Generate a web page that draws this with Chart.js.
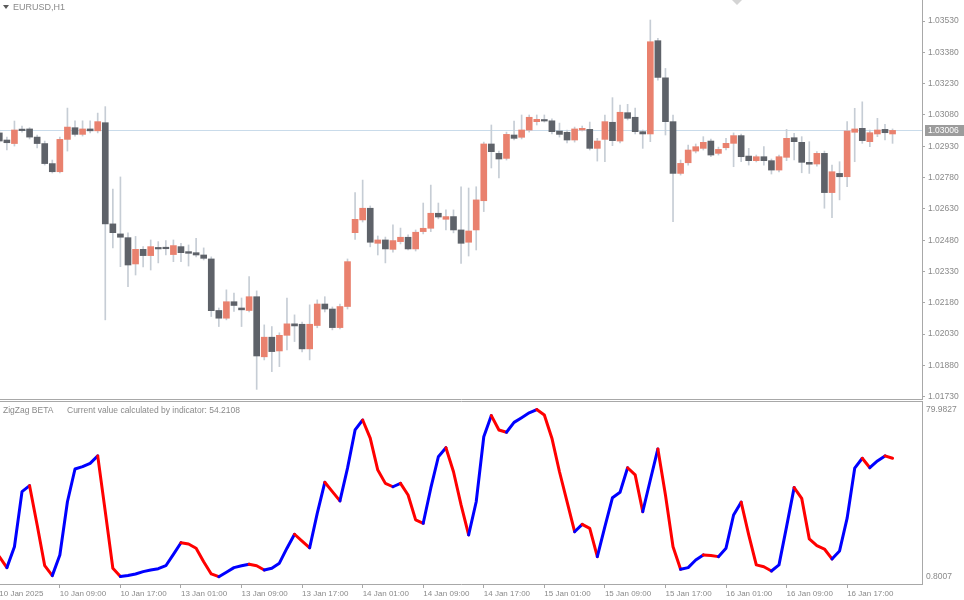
<!DOCTYPE html>
<html>
<head>
<meta charset="utf-8">
<script src="https://cdn.jsdelivr.net/npm/chart.js@4.4.1/dist/chart.umd.min.js"></script>
<style>
  html, body { margin: 0; padding: 0; background: #fff; }
  #wrap { position: relative; width: 964px; height: 600px; overflow: hidden; font-family: "Liberation Sans", Arial, sans-serif; }
  #priceCanvas { position: absolute; left: 0; top: 0; }
  #oscCanvas { position: absolute; left: 0; top: 400px; }
  .lbl { position: absolute; color: #8a8a8a; font-size: 8.5px; line-height: 10px; white-space: nowrap; }
  .tri { position: absolute; width: 0; height: 0; border-left: 3px solid transparent; border-right: 3px solid transparent; }
</style>
</head>
<body>
<div id="wrap">
  <canvas id="priceCanvas" width="964" height="400"></canvas>
  <canvas id="oscCanvas" width="964" height="200"></canvas>
  <div class="tri" style="left:3px;top:5px;border-top:4px solid #5a5a5a;"></div>
  <div class="lbl" style="left:13px;top:2px;font-size:9px;">EURUSD,H1</div>
  <div class="tri" style="left:732px;top:0;border-left-width:5px;border-right-width:5px;border-top:5px solid #d4d4d4;"></div>
  <div class="lbl" style="left:3px;top:405px;">ZigZag BETA</div>
  <div class="lbl" style="left:67px;top:405px;">Current value calculated by indicator: 54.2108</div>
</div>
<script>
// H1 candles, EURUSD
const opens = [
  1.02994, 1.02960, 1.02943, 1.03008, 1.03013, 1.02974, 1.02943, 1.02847, 1.02808, 1.02963,
  1.03019, 1.02987, 1.03013, 1.03004, 1.03043, 1.02558, 1.02510, 1.02492, 1.02366, 1.02436,
  1.02406, 1.02444, 1.02443, 1.02411, 1.02449, 1.02425, 1.02420, 1.02409, 1.02390, 1.02143,
  1.02106, 1.02185, 1.02155, 1.02143, 1.02209, 1.01921, 1.02015, 1.01949, 1.02024, 1.02079,
  1.02077, 1.01959, 1.02071, 1.02174, 1.02150, 1.02061, 1.02162, 1.02516, 1.02577, 1.02633,
  1.02465, 1.02481, 1.02436, 1.02473, 1.02494, 1.02438, 1.02521, 1.02537, 1.02609, 1.02580,
  1.02593, 1.02529, 1.02470, 1.02529, 1.02669, 1.02941, 1.02896, 1.02872, 1.02984, 1.02973,
  1.03008, 1.03048, 1.03056, 1.03052, 1.03003, 1.02997, 1.02960, 1.03008, 1.03011, 1.02920,
  1.02963, 1.03045, 1.02955, 1.03091, 1.03069, 1.03000, 1.02989, 1.03436, 1.03258, 1.03048,
  1.02800, 1.02851, 1.02907, 1.02920, 1.02955, 1.02896, 1.02923, 1.02944, 1.02981, 1.02883,
  1.02861, 1.02880, 1.02861, 1.02816, 1.02877, 1.02971, 1.02949, 1.02853, 1.02845, 1.02896,
  1.02708, 1.02800, 1.02784, 1.02997, 1.03016, 1.02952, 1.02989, 1.03011, 1.02989
];
const highs = [
  1.03008, 1.02974, 1.03051, 1.03027, 1.03019, 1.02984, 1.02955, 1.02864, 1.02974, 1.03113,
  1.03052, 1.03052, 1.03052, 1.03089, 1.03120, 1.02725, 1.02783, 1.02515, 1.02498, 1.02449,
  1.02481, 1.02473, 1.02478, 1.02481, 1.02465, 1.02457, 1.02489, 1.02443, 1.02400, 1.02155,
  1.02242, 1.02226, 1.02203, 1.02306, 1.02237, 1.02074, 1.02066, 1.02036, 1.02203, 1.02122,
  1.02088, 1.02170, 1.02194, 1.02209, 1.02160, 1.02174, 1.02390, 1.02708, 1.02768, 1.02644,
  1.02500, 1.02495, 1.02553, 1.02538, 1.02505, 1.02529, 1.02658, 1.02744, 1.02658, 1.02625,
  1.02625, 1.02736, 1.02730, 1.02736, 1.02950, 1.03032, 1.02907, 1.02998, 1.03051, 1.03080,
  1.03080, 1.03080, 1.03080, 1.03061, 1.03041, 1.03008, 1.03022, 1.03027, 1.03046, 1.02968,
  1.03080, 1.03163, 1.03128, 1.03131, 1.03113, 1.03008, 1.03535, 1.03447, 1.03303, 1.03080,
  1.02864, 1.02936, 1.02941, 1.02976, 1.02965, 1.02926, 1.02968, 1.02994, 1.02989, 1.02920,
  1.02888, 1.02928, 1.02869, 1.02888, 1.03011, 1.02992, 1.02976, 1.02952, 1.02904, 1.02907,
  1.02840, 1.02856, 1.03048, 1.03112, 1.03143, 1.03008, 1.03064, 1.03035, 1.03013
];
const lows = [
  1.02946, 1.02912, 1.02931, 1.02998, 1.02965, 1.02922, 1.02840, 1.02802, 1.02802, 1.02907,
  1.02979, 1.02979, 1.02994, 1.02994, 1.02098, 1.02443, 1.02353, 1.02257, 1.02313, 1.02352,
  1.02337, 1.02371, 1.02409, 1.02377, 1.02377, 1.02356, 1.02400, 1.02385, 1.02114, 1.02066,
  1.02098, 1.02138, 1.02066, 1.02136, 1.01765, 1.01906, 1.01850, 1.01874, 1.01954, 1.01994,
  1.01945, 1.01906, 1.02060, 1.02136, 1.02050, 1.02055, 1.02150, 1.02484, 1.02567, 1.02448,
  1.02409, 1.02371, 1.02423, 1.02462, 1.02433, 1.02428, 1.02510, 1.02521, 1.02582, 1.02529,
  1.02515, 1.02369, 1.02404, 1.02433, 1.02617, 1.02826, 1.02778, 1.02864, 1.02960, 1.02965,
  1.02998, 1.03032, 1.03046, 1.02989, 1.02974, 1.02946, 1.02950, 1.03003, 1.02912, 1.02859,
  1.02856, 1.02933, 1.02946, 1.03056, 1.02989, 1.02920, 1.02952, 1.03247, 1.02984, 1.02569,
  1.02792, 1.02840, 1.02898, 1.02912, 1.02880, 1.02888, 1.02912, 1.02832, 1.02856, 1.02840,
  1.02855, 1.02840, 1.02797, 1.02807, 1.02861, 1.02864, 1.02803, 1.02800, 1.02835, 1.02633,
  1.02588, 1.02673, 1.02736, 1.02856, 1.02944, 1.02928, 1.02976, 1.02960, 1.02944
];
const closes = [
  1.02955, 1.02947, 1.03008, 1.03005, 1.02974, 1.02943, 1.02847, 1.02808, 1.02963, 1.03022,
  1.02987, 1.03013, 1.03004, 1.03048, 1.02558, 1.02516, 1.02494, 1.02361, 1.02436, 1.02406,
  1.02449, 1.02438, 1.02439, 1.02454, 1.02420, 1.02417, 1.02409, 1.02393, 1.02142, 1.02106,
  1.02185, 1.02167, 1.02146, 1.02209, 1.01925, 1.02015, 1.01946, 1.02024, 1.02079, 1.02069,
  1.01959, 1.02077, 1.02174, 1.02150, 1.02061, 1.02162, 1.02377, 1.02580, 1.02633, 1.02470,
  1.02481, 1.02438, 1.02478, 1.02494, 1.02438, 1.02518, 1.02537, 1.02609, 1.02591, 1.02593,
  1.02529, 1.02465, 1.02524, 1.02673, 1.02941, 1.02904, 1.02869, 1.02987, 1.02968, 1.03008,
  1.03069, 1.03059, 1.03051, 1.03000, 1.02987, 1.02960, 1.03013, 1.03016, 1.02920, 1.02955,
  1.03048, 1.02957, 1.03093, 1.03064, 1.03000, 1.02989, 1.03431, 1.03260, 1.03048, 1.02800,
  1.02848, 1.02912, 1.02928, 1.02949, 1.02888, 1.02915, 1.02944, 1.02981, 1.02880, 1.02861,
  1.02880, 1.02861, 1.02816, 1.02880, 1.02968, 1.02952, 1.02853, 1.02844, 1.02896, 1.02708,
  1.02808, 1.02784, 1.03003, 1.03013, 1.02957, 1.02995, 1.03008, 1.02995, 1.03006
];

// ZigZag BETA indicator values, one per candle
const zigzag = [
  10.3, 5.1, 15.0, 41.1, 43.9, 25.3, 6.0, 1.3, 11.1, 36.3,
  51.8, 52.9, 54.5, 58.0, 31.6, 4.8, 0.9, 1.4, 2.1, 3.2,
  4.0, 4.6, 6.0, 11.4, 16.9, 16.3, 14.3, 7.9, 2.1, 0.8,
  2.9, 5.1, 6.0, 6.7, 6.0, 4.0, 4.8, 7.2, 14.3, 20.9,
  17.7, 14.5, 30.8, 45.5, 41.1, 36.7, 52.2, 70.3, 75.0, 66.4,
  51.3, 45.0, 43.4, 45.0, 39.5, 27.7, 26.1, 42.7, 57.6, 61.9,
  50.5, 34.8, 20.6, 36.3, 67.1, 77.1, 70.3, 69.2, 73.9, 76.1,
  78.4, 79.98, 77.4, 66.4, 50.5, 36.3, 22.1, 25.6, 23.7, 10.3,
  24.5, 38.2, 40.8, 52.4, 49.0, 31.6, 46.6, 61.3, 39.5, 15.0,
  4.3, 5.1, 8.7, 11.1, 10.8, 10.3, 14.3, 30.0, 36.1, 20.6,
  6.4, 5.5, 3.5, 6.4, 24.5, 43.0, 37.9, 18.7, 15.5, 13.9,
  9.2, 13.0, 28.5, 52.2, 56.9, 52.4, 55.6, 58.0, 56.9
];

const timeLabels = [
  "10 Jan 2025", "10 Jan 09:00", "10 Jan 17:00", "13 Jan 01:00", "13 Jan 09:00",
  "13 Jan 17:00", "14 Jan 01:00", "14 Jan 09:00", "14 Jan 17:00", "15 Jan 01:00",
  "15 Jan 09:00", "15 Jan 17:00", "16 Jan 01:00", "16 Jan 09:00", "16 Jan 17:00"
];
const priceTicks = [1.03530, 1.03380, 1.03230, 1.03080, 1.02930, 1.02780, 1.02630,
                    1.02480, 1.02330, 1.02180, 1.02030, 1.01880, 1.01730];
const zigzagTicks = [0.8007, 79.9827];
const lastPrice = closes[closes.length - 1];

Chart.defaults.font.family = '"Liberation Sans", Arial, sans-serif';
const axisGray = '#a8a8a8';
const textGray = '#8a8a8a';
const xMin = 0.0925, xMax = 121.89;   // bars per visible width, same for both panes
const idx = opens.map((_, i) => i);
const bodyColors = idx.map(i => closes[i] >= opens[i] ? '#e9816e' : '#5e6269');

const priceDecor = {
    id: 'priceDecor',
    beforeDatasetsDraw(chart) {
        const { ctx, chartArea, scales: { y } } = chart;
        const py = Math.round(y.getPixelForValue(lastPrice)) + 0.5;
        ctx.save();
        ctx.strokeStyle = '#c9dbea';
        ctx.lineWidth = 1;
        ctx.beginPath();
        ctx.moveTo(chartArea.left, py);
        ctx.lineTo(chartArea.right, py);
        ctx.stroke();
        ctx.restore();
    },
    afterDraw(chart) {
        const { ctx, chartArea, scales: { y } } = chart;
        const py = Math.round(y.getPixelForValue(lastPrice));
        ctx.save();
        ctx.strokeStyle = axisGray;
        ctx.beginPath();
        ctx.moveTo(0, chartArea.bottom - 0.5);
        ctx.lineTo(chartArea.right + 1, chartArea.bottom - 0.5);
        ctx.stroke();
        ctx.fillStyle = '#9c9c9c';
        ctx.fillRect(chartArea.right + 3, py - 5, 39, 11);
        ctx.fillStyle = '#ffffff';
        ctx.font = '8.5px "Liberation Sans", Arial, sans-serif';
        ctx.textBaseline = 'middle';
        ctx.fillText(lastPrice.toFixed(5), chartArea.right + 6, py + 0.5);
        ctx.restore();
    }
};

new Chart(document.getElementById('priceCanvas'), {
    type: 'bar',
    data: {
        datasets: [
            {
                label: 'Body',
                data: idx.map(i => ({ x: i, y: [opens[i], closes[i]] })),
                backgroundColor: bodyColors,
                barThickness: 6,
                minBarLength: 1.5,
                grouped: false,
                order: 0
            },
            {
                label: 'Wick',
                data: idx.map(i => ({ x: i, y: [lows[i], highs[i]] })),
                backgroundColor: '#c6cdd5',
                barThickness: 1,
                grouped: false,
                order: 1
            }
        ]
    },
    options: {
        responsive: false,
        animation: false,
        events: [],
        layout: { padding: 0 },
        plugins: { legend: { display: false }, tooltip: { enabled: false } },
        scales: {
            x: { type: 'linear', min: xMin, max: xMax, offset: false, display: false },
            y: {
                position: 'right',
                min: 1.01714,
                max: 1.03631,
                afterBuildTicks: s => { s.ticks = priceTicks.map(v => ({ value: v })); },
                afterFit: s => { s.width = 42; s.paddingTop = 0; s.paddingBottom = 0; },
                ticks: { callback: v => v.toFixed(5), color: textGray, font: { size: 8.5 }, padding: 3 },
                grid: { drawOnChartArea: false, tickLength: 3, color: axisGray },
                border: { color: axisGray }
            }
        }
    },
    plugins: [priceDecor]
});

const oscFrame = {
    id: 'oscFrame',
    afterDraw(chart) {
        const { ctx, chartArea } = chart;
        ctx.save();
        ctx.strokeStyle = axisGray;
        ctx.beginPath();
        ctx.moveTo(0, chartArea.top + 0.5);
        ctx.lineTo(chartArea.right + 1, chartArea.top + 0.5);
        ctx.stroke();
        ctx.restore();
    }
};

new Chart(document.getElementById('oscCanvas'), {
    type: 'line',
    data: {
        datasets: [{
            label: 'ZigZag BETA',
            data: idx.map(i => ({ x: i, y: zigzag[i] })),
            borderWidth: 3,
            borderColor: '#0000ff',
            pointRadius: 0,
            tension: 0,
            borderJoinStyle: 'round',
            borderCapStyle: 'round',
            segment: {
                borderColor: c => c.p1.parsed.y >= c.p0.parsed.y ? '#0000ff' : '#ff0000'
            }
        }]
    },
    options: {
        responsive: false,
        animation: false,
        events: [],
        layout: { padding: { top: 1 } },
        plugins: { legend: { display: false }, tooltip: { enabled: false } },
        scales: {
            x: {
                type: 'linear',
                min: xMin,
                max: xMax,
                offset: false,
                afterBuildTicks: s => { s.ticks = timeLabels.map((t, k) => ({ value: k * 8 })); },
                afterFit: s => { s.height = 16; s.paddingLeft = 0; s.paddingRight = 0; },
                ticks: {
                    callback: v => timeLabels[Math.round(v / 8)],
                    align: 'start',
                    autoSkip: false,
                    maxRotation: 0,
                    color: textGray,
                    font: { size: 8 },
                    padding: 1
                },
                grid: { drawOnChartArea: false, tickLength: 4, color: axisGray },
                border: { color: axisGray }
            },
            y: {
                position: 'right',
                min: -2.66,
                max: 84.01,
                afterBuildTicks: s => { s.ticks = zigzagTicks.map(v => ({ value: v })); },
                afterFit: s => { s.width = 42; s.paddingTop = 0; s.paddingBottom = 0; },
                ticks: { callback: v => v.toFixed(4), color: textGray, font: { size: 8.5 }, padding: 4 },
                grid: { drawOnChartArea: false, drawTicks: false },
                border: { color: axisGray }
            }
        }
    },
    plugins: [oscFrame]
});
</script>
</body>
</html>
